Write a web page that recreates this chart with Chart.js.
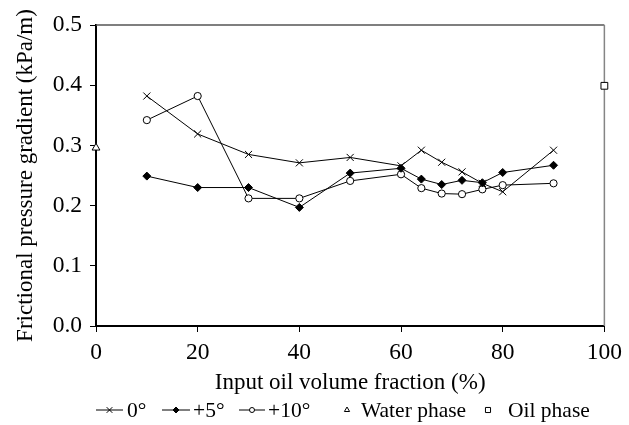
<!DOCTYPE html>
<html>
<head>
<meta charset="utf-8">
<script src="https://cdn.jsdelivr.net/npm/chart.js@4.4.1/dist/chart.umd.min.js"></script>
<style>
  html, body { margin: 0; padding: 0; background: #ffffff; }
  #wrap { width: 629px; height: 425px; position: relative; }
</style>
</head>
<body>
<div id="wrap"><canvas id="c" width="629" height="425"></canvas></div>
<script>
// ---- data ----
const xDeg0 = [10, 20, 30, 40, 50, 60, 64, 68, 72, 76, 80, 90];
const yDeg0 = [0.382, 0.319, 0.285, 0.271, 0.280, 0.266, 0.292, 0.272, 0.256, 0.237, 0.223, 0.292];

const xDeg5 = [10, 20, 30, 40, 50, 60, 64, 68, 72, 76, 80, 90];
const yDeg5 = [0.249, 0.230, 0.230, 0.197, 0.254, 0.262, 0.244, 0.235, 0.242, 0.238, 0.255, 0.267];

const xDeg10 = [10, 20, 30, 40, 50, 60, 64, 68, 72, 76, 80, 90];
const yDeg10 = [0.342, 0.382, 0.212, 0.212, 0.241, 0.252, 0.229, 0.220, 0.219, 0.227, 0.234, 0.237];

const xWater = [0];
const yWater = [0.296];
const xOil = [100];
const yOil = [0.399];

const seriesNames = ['0\u00B0', '+5\u00B0', '+10\u00B0', 'Water phase', 'Oil phase'];
const xTickValues = [0, 20, 40, 60, 80, 100];
const yTickValues = [0.0, 0.1, 0.2, 0.3, 0.4, 0.5];

const xTitle = 'Input oil volume fraction (%)';
const yTitle = 'Frictional pressure gradient (kPa/m)';

function pts(xs, ys) { return xs.map((x, i) => ({ x: x, y: ys[i] })); }

const FONT = "'Liberation Serif', 'Times New Roman', Times, serif";
Chart.defaults.font.family = FONT;
Chart.defaults.color = '#000';

// frame (top/right border) plugin
const framePlugin = {
  id: 'frame',
  beforeDatasetsDraw(chart) {
    const { ctx, chartArea: a } = chart;
    ctx.save();
    ctx.lineWidth = 1.5;
    ctx.strokeStyle = '#555';
    ctx.beginPath();
    ctx.moveTo(a.left, a.top);
    ctx.lineTo(a.right, a.top);
    ctx.stroke();
    ctx.strokeStyle = '#858585';
    ctx.beginPath();
    ctx.moveTo(a.right, a.top);
    ctx.lineTo(a.right, a.bottom);
    ctx.stroke();
    ctx.restore();
  }
};

// custom legend plugin (line + marker samples as in the original)
const legendPlugin = {
  id: 'customLegend',
  afterDraw(chart) {
    const { ctx } = chart;
    const y = 410;
    const items = [
      { ds: 0, line: [96, 123], mx: 109.5, tx: 127, r: 4 },
      { ds: 1, line: [162, 190], mx: 176, tx: 193, r: 3 },
      { ds: 2, line: [239, 265], mx: 252, tx: 268, r: 2.5 },
      { ds: 3, line: null, mx: 347, tx: 361, r: 3 },
      { ds: 4, line: null, mx: 488, tx: 508, r: 3.6 }
    ];
    ctx.save();
    items.forEach(it => {
      const d = chart.data.datasets[it.ds];
      if (it.line) {
        ctx.strokeStyle = '#000';
        ctx.lineWidth = 1;
        ctx.beginPath();
        ctx.moveTo(it.line[0], y);
        ctx.lineTo(it.line[1], y);
        ctx.stroke();
      }
      ctx.fillStyle = d.pointBackgroundColor;
      ctx.strokeStyle = d.pointBorderColor;
      ctx.lineWidth = 1;
      Chart.helpers.drawPoint(ctx, { pointStyle: d.pointStyle, radius: it.r, rotation: 0, borderWidth: 1 }, it.mx, y);
      ctx.fillStyle = '#000';
      ctx.font = "21.5px " + FONT;
      ctx.textBaseline = 'middle';
      ctx.textAlign = 'left';
      ctx.fillText(d.label, it.tx, y + 1);
    });
    ctx.restore();
  }
};

const common = { borderColor: '#000', borderWidth: 1, pointBorderColor: '#000', pointBorderWidth: 1, clip: false, tension: 0 };

new Chart(document.getElementById('c'), {
  type: 'line',
  data: {
    datasets: [
      Object.assign({}, common, { label: seriesNames[0], data: pts(xDeg0, yDeg0), pointStyle: 'crossRot', pointRadius: 5, pointBackgroundColor: '#000' }),
      Object.assign({}, common, { label: seriesNames[1], data: pts(xDeg5, yDeg5), pointStyle: 'rectRot', pointRadius: 4, pointBackgroundColor: '#000' }),
      Object.assign({}, common, { label: seriesNames[2], data: pts(xDeg10, yDeg10), pointStyle: 'circle', pointRadius: 3.6, pointBackgroundColor: '#fff' }),
      Object.assign({}, common, { label: seriesNames[3], data: pts(xWater, yWater), showLine: false, pointStyle: 'triangle', pointRadius: 4.5, pointBackgroundColor: '#fff' }),
      Object.assign({}, common, { label: seriesNames[4], data: pts(xOil, yOil), showLine: false, pointStyle: 'rect', pointRadius: 4.8, pointBackgroundColor: '#fff' })
    ]
  },
  options: {
    responsive: false,
    animation: false,
    devicePixelRatio: 1,
    layout: { padding: { top: 25, right: 16, bottom: 0, left: 0 } },
    plugins: { legend: { display: false }, tooltip: { enabled: false } },
    scales: {
      x: {
        type: 'linear',
        min: 0, max: 100,
        afterFit(s) { s.height = 99; },
        afterBuildTicks(s) { s.ticks = xTickValues.map(v => ({ value: v })); },
        ticks: { font: { size: 23.5 }, padding: 7, color: '#000', callback: v => String(v), maxRotation: 0 },
        grid: { drawOnChartArea: false, drawTicks: true, tickLength: 6, color: '#000', lineWidth: 1 },
        border: { display: true, color: '#000', width: 2 },
        title: { display: true, text: xTitle, font: { size: 23 }, color: '#000', padding: { top: 0, bottom: 28 } }
      },
      y: {
        type: 'linear',
        min: 0, max: 0.5,
        afterFit(s) { s.width = 96; },
        afterBuildTicks(s) { s.ticks = yTickValues.map(v => ({ value: v })); },
        ticks: { font: { size: 23.5 }, padding: 8, color: '#000', callback: v => Number(v).toFixed(1) },
        grid: { drawOnChartArea: false, drawTicks: true, tickLength: 6, color: '#000', lineWidth: 1 },
        border: { display: true, color: '#000', width: 2 },
        title: { display: true, text: yTitle, font: { size: 23 }, color: '#000', padding: { top: 12, bottom: 0 } }
      }
    }
  },
  plugins: [framePlugin, legendPlugin]
});
</script>
</body>
</html>
